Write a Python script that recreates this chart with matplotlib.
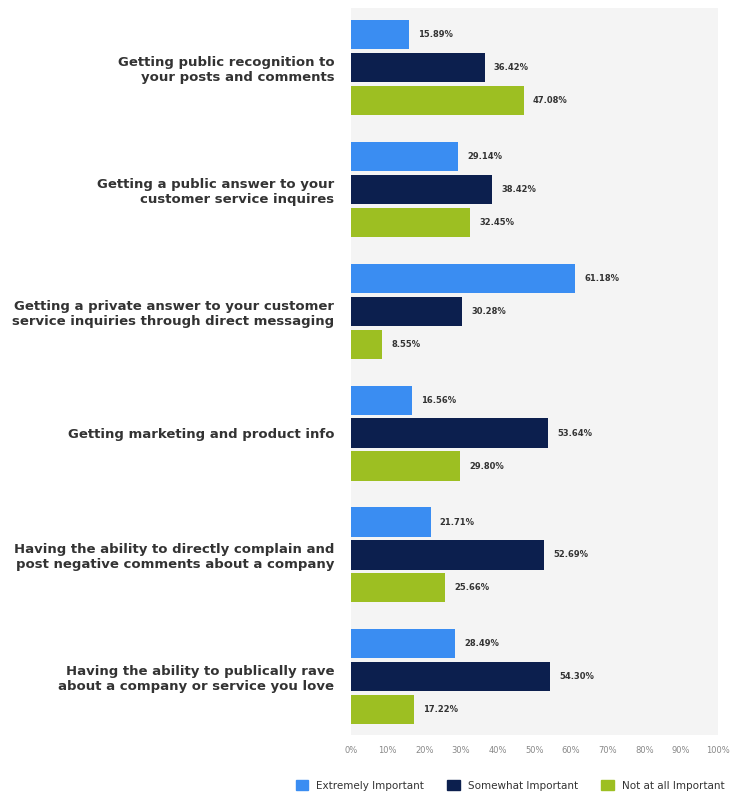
import numpy as np
import matplotlib.pyplot as plt
from matplotlib.patches import Patch

# 数据
categories = [
    "Getting public recognition to\nyour posts and comments",
    "Getting a public answer to your\ncustomer service inquires",
    "Getting a private answer to your customer\nservice inquiries through direct messaging",
    "Getting marketing and product info",
    "Having the ability to directly complain and\npost negative comments about a company",
    "Having the ability to publically rave\nabout a company or service you love",
]
series_names = ["Extremely Important", "Somewhat Important", "Not at all Important"]
extremely = [15.89, 29.14, 61.18, 16.56, 21.71, 28.49]
somewhat = [36.42, 38.42, 30.28, 53.64, 52.69, 54.30]
not_at_all = [47.08, 32.45, 8.55, 29.80, 25.66, 17.22]
xticks = [0, 10, 20, 30, 40, 50, 60, 70, 80, 90, 100]

colors = ['#3a8df2', '#0c1f4e', '#9dbf22']

fig = plt.figure(figsize=(7.34, 8), dpi=100)
ax = fig.add_axes([0.478, 0.081, 0.5, 0.909])
ax.set_facecolor('#f4f4f4')

y = np.arange(len(categories))
pitch = 0.27
h = 0.24
for k, vals in enumerate([extremely, somewhat, not_at_all]):
    pos = y + (k - 1) * pitch
    ax.barh(pos, vals, height=h, color=colors[k], label=series_names[k])
    for p, v in zip(pos, vals):
        ax.text(v + 2.5, p, "%.2f%%" % v, va='center', ha='left',
                fontsize=6, fontweight='bold', color='#333333')

ax.set_xlim(0, 100)
ax.set_ylim(5.48, -0.49)
ax.set_yticks(y)
ax.set_yticklabels(categories, fontsize=9.5, fontweight='bold', color='#333333',
                   ha='right', multialignment='right')
ax.tick_params(axis='y', length=0, pad=12)
ax.set_xticks(xticks)
ax.set_xticklabels([str(t) + "%" for t in xticks], fontsize=6, color='#888888')
ax.tick_params(axis='x', length=0, pad=8)
for s in ax.spines.values():
    s.set_visible(False)

handles = [Patch(color=c) for c in colors]
fig.legend(handles, series_names, loc='lower right', bbox_to_anchor=(1.0, 0.0),
           ncol=3, frameon=False, fontsize=7.5, handlelength=1.2, handleheight=1.2,
           columnspacing=2.2, labelcolor='#333333')

plt.savefig('out.png', dpi=100, facecolor='white')
